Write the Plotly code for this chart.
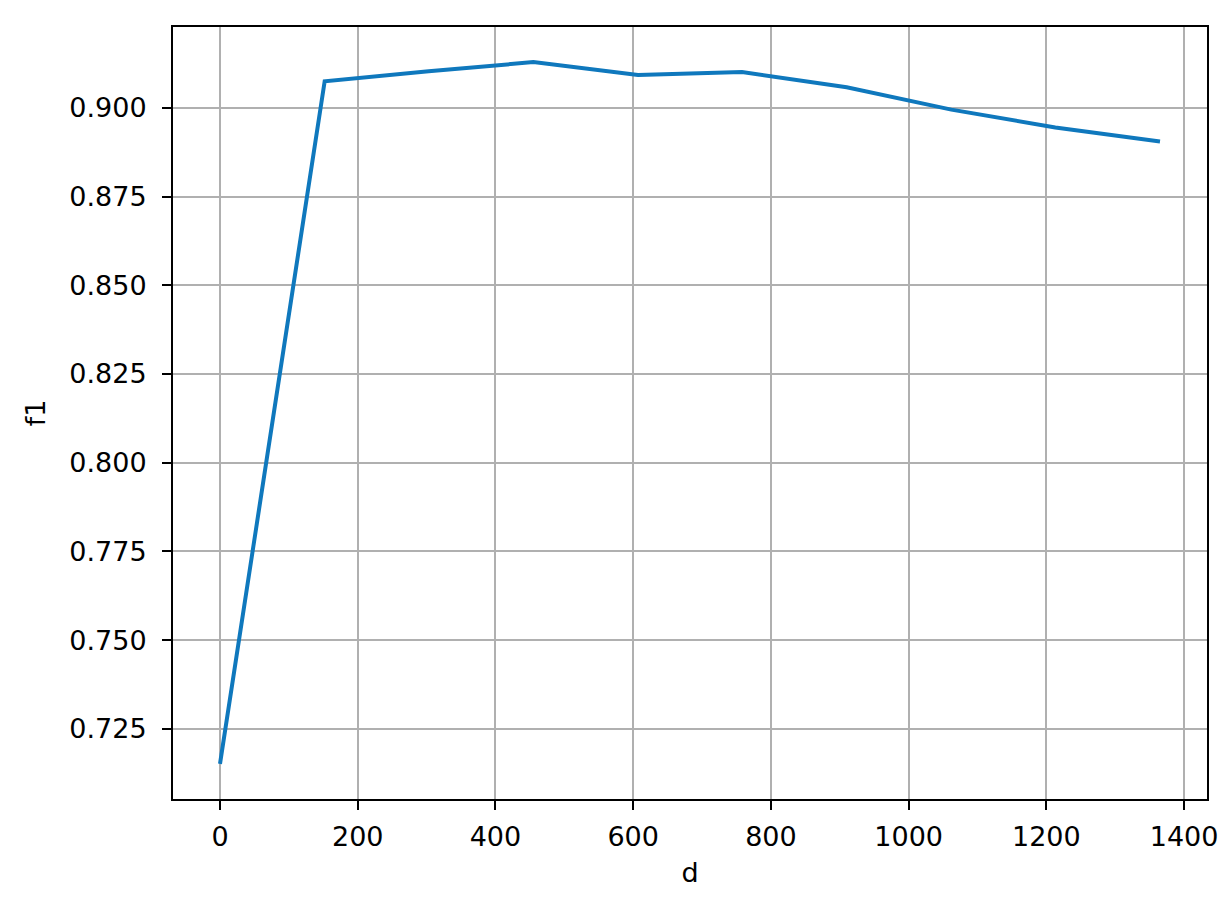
import plotly.graph_objects as go

# Data
d_values = [0, 152, 303, 455, 607, 758, 910, 1062, 1213, 1365]
f1_values = [0.7151, 0.9075, 0.9103, 0.9129, 0.9093, 0.9101, 0.9058, 0.8995, 0.8945, 0.8905]

x_ticks = [0, 200, 400, 600, 800, 1000, 1200, 1400]
y_ticks = [0.725, 0.750, 0.775, 0.800, 0.825, 0.850, 0.875, 0.900]

FONT = "DejaVu Sans"
FS = 27

fig = go.Figure()
fig.add_trace(go.Scatter(
    x=d_values, y=f1_values, mode="lines",
    line=dict(color="#0f78bd", width=4),
    showlegend=False,
))

axis_common = dict(
    showline=True, linecolor="black", linewidth=2, mirror=True,
    ticks="outside", ticklen=9, tickwidth=2, tickcolor="black",
    showgrid=True, gridcolor="#b0b0b0", gridwidth=2,
    zeroline=False,
    tickfont=dict(family=FONT, size=FS, color="black"),
    automargin=False,
)

fig.update_layout(
    width=1232, height=900,
    margin=dict(l=165, r=33, t=19, b=109),
    paper_bgcolor="white", plot_bgcolor="white",
    font=dict(family=FONT, size=FS, color="black"),
    xaxis=dict(
        range=[-68.25, 1433.25],
        tickvals=x_ticks, ticktext=[str(v) for v in x_ticks],
        title=dict(text="d", font=dict(family=FONT, size=FS), standoff=12),
        ticklabelstandoff=4,
        **axis_common,
    ),
    yaxis=dict(
        range=[0.7052, 0.9228],
        tickvals=y_ticks, ticktext=[f"{v:.3f}" for v in y_ticks],
        title=dict(text="f1", font=dict(family=FONT, size=FS), standoff=16),
        ticklabelstandoff=10,
        **axis_common,
    ),
)

fig.write_html("out.html")
